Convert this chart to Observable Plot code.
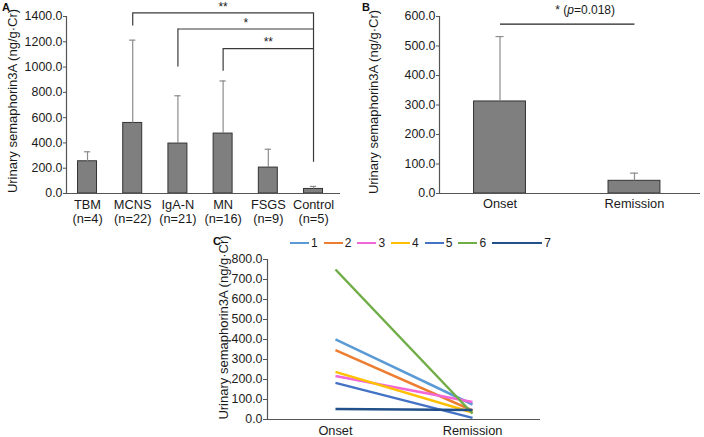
<!DOCTYPE html>
<html><head><meta charset="utf-8">
<script src="https://cdn.jsdelivr.net/npm/d3@7"></script>
<script src="https://cdn.jsdelivr.net/npm/@observablehq/plot@0.6"></script>
<style>
body{margin:0;background:#fff;font-family:"Liberation Sans",Arial,sans-serif;}
#root{position:relative;width:704px;height:437px;overflow:hidden;background:#fff;}
.panel{position:absolute;}
.letter{position:absolute;font-weight:bold;font-size:11px;color:#111;line-height:1;}
#legendC{position:absolute;left:290px;top:236px;display:flex;align-items:center;font-size:12px;color:#1a1a1a;line-height:14px;}
#legendC .it{display:flex;align-items:center;}
#legendC .ln{display:inline-block;height:2.5px;margin-right:2px;}
#legendC .tx{margin-right:6px;}
</style></head><body><div id="root"></div>
<script>
// ---- Panel A data ----
const groupsA = ["TBM", "MCNS", "IgA-N", "MN", "FSGS", "Control"];
const nA = [4, 22, 21, 16, 9, 5];
const meanA = [255, 558, 395, 474, 205, 36];
const sdA = [75, 655, 378, 416, 145, 20];
const ticksA = [0, 200, 400, 600, 800, 1000, 1200, 1400];
const sigFromA = ["MCNS", "IgA-N", "MN"];
const sigToA = "Control";
const sigLevelA = [1428, 1301, 1146];
const sigLegA = [1325, 1001, 967];
const sigLabelA = ["**", "*", "**"];
const controlLegBottomA = 247;

// ---- Panel B data ----
const groupsB = ["Onset", "Remission"];
const meanB = [312, 43];
const sdB = [220, 26];
const ticksB = [0, 100, 200, 300, 400, 500, 600];
const sigLevelB = 574;
const sigTextB = ["* (", "p", "=0.018)"];

// ---- Panel C data ----
const patientsC = ["1", "2", "3", "4", "5", "6", "7"];
const onsetC = [401, 347, 218, 238, 183, 750, 53];
const remissionC = [75, 45, 88, 35, 8, 30, 47];
const colorsC = ["#5b9bd5", "#ed7d31", "#f266d8", "#ffc000", "#4472c4", "#70ad47", "#22508a"];
const ticksC = [0, 100, 200, 300, 400, 500, 600, 700, 800];
const stagesC = ["Onset", "Remission"];

const yTitle = "Urinary semaphorin3A (ng/g·Cr)";
const fmt = d3.format(".1f");
const FONT = '"Liberation Sans", Arial, sans-serif';
const INK = "#1a1a1a";
const AXIS = "#555";

const root = document.getElementById("root");
function place(el, left, top) {
  const w = document.createElement("div");
  w.className = "panel";
  w.style.left = left + "px"; w.style.top = top + "px";
  w.appendChild(el);
  root.appendChild(w);
}
function letter(t, left, top) {
  const d = document.createElement("div");
  d.className = "letter"; d.textContent = t;
  d.style.left = left + "px"; d.style.top = top + "px";
  root.appendChild(d);
}

// ================= Panel A =================
const rowsA = groupsA.map((g, i) => ({i, g, n: nA[i], mean: meanA[i], hi: meanA[i] + sdA[i]}));
const idxA = g => groupsA.indexOf(g);
const brA = sigFromA.map((g, k) => ({from: idxA(g), to: idxA(sigToA), level: sigLevelA[k], leg: sigLegA[k], label: sigLabelA[k]}));
const halfA = 0.21, capA = 0.07;
const plotA = Plot.plot({
  width: 355, height: 230,
  marginLeft: 66, marginRight: 15, marginTop: 16, marginBottom: 37,
  style: {fontFamily: FONT, fontSize: "12.4px", color: INK, background: "transparent", overflow: "visible"},
  x: {domain: [-0.465, 5.597]},
  y: {domain: [0, 1400]},
  marks: [
    Plot.rectY(rowsA, {x1: d => d.i - halfA, x2: d => d.i + halfA, y1: 0, y2: "mean", fill: "#7f7f7f", stroke: "#333", strokeWidth: 1}),
    Plot.ruleX(rowsA, {x: "i", y1: "mean", y2: "hi", stroke: "#8c8c8c", strokeWidth: 1.2}),
    Plot.ruleY(rowsA, {y: "hi", x1: d => d.i - capA, x2: d => d.i + capA, stroke: "#8c8c8c", strokeWidth: 1.2}),
    Plot.link(brA, {x1: "from", x2: "to", y1: "level", y2: "level", stroke: "#3a3a3a", strokeWidth: 1.2}),
    Plot.ruleX(brA, {x: "from", y1: "leg", y2: "level", stroke: "#3a3a3a", strokeWidth: 1.2}),
    Plot.ruleX([{x: idxA(sigToA), y1: controlLegBottomA, y2: d3.max(sigLevelA)}], {x: "x", y1: "y1", y2: "y2", stroke: "#3a3a3a", strokeWidth: 1.2}),
    Plot.text(brA, {x: d => (d.from + d.to) / 2, y: "level", text: "label", dy: -6, fontSize: 12, fill: INK}),
    Plot.ruleY([0], {stroke: AXIS, strokeWidth: 1.2}),
    Plot.ruleX([-0.465], {stroke: AXIS, strokeWidth: 1.2}),
    Plot.axisY({ticks: ticksA, tickFormat: fmt, tickSize: 3, tickPadding: 1, label: null, stroke: AXIS}),
    Plot.axisX({ticks: d3.range(groupsA.length), tickFormat: i => groupsA[i] + "\n(n=" + nA[i] + ")", tickSize: 0, tickPadding: 5, lineHeight: 1.13, fontSize: 12.8, label: null}),
    Plot.text([yTitle], {frameAnchor: "left", textAnchor: "middle", lineAnchor: "middle", rotate: -90, dx: -54, dy: -4, fontSize: 13, fill: INK})
  ]
});
place(plotA, 0, 0);
letter("A", 2, 2);

// ================= Panel B =================
const rowsB = groupsB.map((g, i) => ({i, g, mean: meanB[i], hi: meanB[i] + sdB[i]}));
const halfB = 0.193, capB = 0.03;
const plotB = Plot.plot({
  width: 344, height: 230,
  marginLeft: 79, marginRight: 4, marginTop: 16, marginBottom: 37,
  style: {fontFamily: FONT, fontSize: "12.4px", color: INK, background: "transparent", overflow: "visible"},
  x: {domain: [-0.45, 1.491]},
  y: {domain: [0, 600]},
  marks: [
    Plot.rectY(rowsB, {x1: d => d.i - halfB, x2: d => d.i + halfB, y1: 0, y2: "mean", fill: "#7f7f7f", stroke: "#333", strokeWidth: 1}),
    Plot.ruleX(rowsB, {x: "i", y1: "mean", y2: "hi", stroke: "#8c8c8c", strokeWidth: 1.2}),
    Plot.ruleY(rowsB, {y: "hi", x1: d => d.i - capB, x2: d => d.i + capB, stroke: "#8c8c8c", strokeWidth: 1.2}),
    Plot.link([{x1: 0, x2: 1, y: sigLevelB}], {x1: "x1", x2: "x2", y1: "y", y2: "y", stroke: "#222", strokeWidth: 1.3}),
    Plot.text([sigTextB[0]], {x: 0.5, y: sigLevelB, text: d => d, textAnchor: "start", dx: -12, dy: -14, fontSize: 12, fill: INK}),
    Plot.text([sigTextB[1]], {x: 0.5, y: sigLevelB, text: d => d, textAnchor: "start", dx: 0, dy: -14, fontSize: 12, fontStyle: "italic", fill: INK}),
    Plot.text([sigTextB[2]], {x: 0.5, y: sigLevelB, text: d => d, textAnchor: "start", dx: 6.7, dy: -14, fontSize: 12, fill: INK}),
    Plot.ruleY([0], {stroke: AXIS, strokeWidth: 1.2}),
    Plot.ruleX([-0.45], {stroke: AXIS, strokeWidth: 1.2}),
    Plot.axisY({ticks: ticksB, tickFormat: fmt, tickSize: 3, tickPadding: 1, label: null, stroke: AXIS}),
    Plot.axisX({ticks: d3.range(groupsB.length), tickFormat: i => groupsB[i], tickSize: 0, tickPadding: 5, fontSize: 12.8, label: null}),
    Plot.text([yTitle], {frameAnchor: "left", textAnchor: "middle", lineAnchor: "middle", rotate: -90, dx: -66, dy: -3, fontSize: 13, fill: INK})
  ]
});
place(plotB, 360, 0);
letter("B", 362, 2);

// ================= Panel C =================
const rowsC = patientsC.map((p, k) => ({p, onset: onsetC[k], remission: remissionC[k]}));
const plotC = Plot.plot({
  width: 355, height: 192,
  marginLeft: 77, marginRight: 5, marginTop: 14, marginBottom: 18,
  style: {fontFamily: FONT, fontSize: "12.4px", color: INK, background: "transparent", overflow: "visible"},
  x: {domain: [-0.496, 1.496]},
  y: {domain: [0, 800]},
  color: {domain: patientsC, range: colorsC},
  marks: [
    Plot.link(rowsC, {x1: 0, x2: 1, y1: "onset", y2: "remission", stroke: "p", strokeWidth: 2.5}),
    Plot.ruleY([0], {stroke: AXIS, strokeWidth: 1.2}),
    Plot.ruleX([-0.496], {stroke: AXIS, strokeWidth: 1.2}),
    Plot.axisY({ticks: ticksC, tickFormat: fmt, tickSize: 4, tickPadding: 1, label: null, stroke: AXIS}),
    Plot.axisX({ticks: d3.range(stagesC.length), tickFormat: i => stagesC[i], tickSize: 0, tickPadding: 6, fontSize: 12.8, label: null}),
    Plot.text([yTitle], {frameAnchor: "left", textAnchor: "middle", lineAnchor: "middle", rotate: -90, dx: -44, dy: -12, fontSize: 13, fill: INK})
  ]
});
place(plotC, 190, 245);
letter("C", 213, 236);

// legend C
const lg = document.createElement("div");
lg.id = "legendC";
patientsC.forEach((p, k) => {
  const it = document.createElement("span"); it.className = "it";
  const ln = document.createElement("span"); ln.className = "ln";
  ln.style.background = colorsC[k];
  ln.style.width = (k === patientsC.length - 1 ? 50 : 19) + "px";
  const tx = document.createElement("span"); tx.className = "tx"; tx.textContent = p;
  it.appendChild(ln); it.appendChild(tx); lg.appendChild(it);
});
root.appendChild(lg);
</script>
</body></html>
